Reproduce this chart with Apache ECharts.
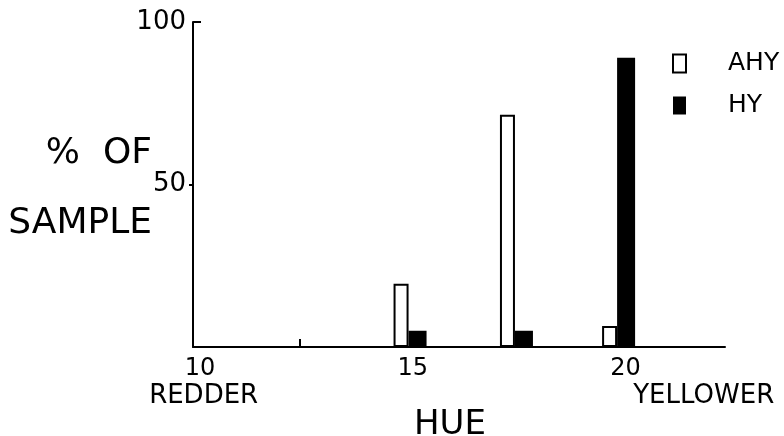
<!DOCTYPE html>
<html>
<head>
<meta charset="utf-8">
<script src="https://cdn.jsdelivr.net/npm/echarts@6/dist/echarts.min.js"></script>
<style>html,body{margin:0;padding:0;background:#fff}#c{width:784px;height:436px}</style>
</head>
<body>
<div id="c"></div>
<script>
const hues = [15.1, 17.6, 20];
const ahy = [19.5, 71.5, 6.5];
const hy = [5, 5, 89];
const xTickLabels = [10, 15, 20];
const xMinorTicks = [12.5];
const yTickLabels = [50, 100];
const endLabels = {10.25: 'REDDER', 22: 'YELLOWER'};
const seriesNames = ['AHY', 'HY'];

const FONT = 'DejaVu Sans';
const chart = echarts.init(document.getElementById('c'), null, {renderer: 'canvas'});
chart.setOption({
  backgroundColor: '#fff',
  animation: false,
  textStyle: {fontFamily: FONT, color: '#000'},
  grid: {left: 193, right: 59, top: 22, bottom: 89, containLabel: false, outerBoundsMode: 'none'},
  legend: {
    orient: 'vertical', left: 672, top: 51, padding: 0,
    itemWidth: 13, itemHeight: 18, itemGap: 17,
    icon: 'rect',
    data: seriesNames,
    textStyle: {fontFamily: FONT, fontSize: 25, color: '#000', padding: [0, 0, 0, 37]}
  },
  xAxis: [{
    type: 'value', min: 10, max: 22.5, interval: 2.5,
    name: 'HUE', nameLocation: 'middle', nameGap: 61, nameMoveOverlap: false,
    nameTextStyle: {fontFamily: FONT, fontSize: 34, color: '#000', padding: [0, 18, 0, 0]},
    axisLine: {show: true, lineStyle: {color: '#000', width: 2}},
    axisTick: {show: true, inside: true, length: 8, customValues: xMinorTicks, lineStyle: {color: '#000', width: 2}},
    axisLabel: {
      customValues: xTickLabels, margin: 10,
      fontFamily: FONT, fontSize: 24, color: '#000',
      formatter: v => '{n|' + v + '}',
      rich: {n: {fontFamily: FONT, fontSize: 24, color: '#000', padding: [0, 0, 0, 14]}}
    },
    splitLine: {show: false}
  }, {
    type: 'value', min: 10, max: 22.5, position: 'bottom',
    axisLine: {show: false}, axisTick: {show: false}, splitLine: {show: false},
    axisLabel: {
      customValues: Object.keys(endLabels).map(Number), margin: 36,
      fontFamily: FONT, fontSize: 26, color: '#000',
      formatter: v => endLabels[v] || ''
    }
  }],
  yAxis: [{
    type: 'value', min: 0, max: 100, interval: 50,
    name: '{s| }\n{a|%  OF}\n{a|SAMPLE}', nameLocation: 'middle', nameRotate: 0, nameGap: 41, nameMoveOverlap: false,
    nameTextStyle: {
      fontFamily: FONT, fontSize: 36, color: '#000', align: 'right',
      rich: {
        s: {fontSize: 1, lineHeight: 9},
        a: {fontFamily: FONT, fontSize: 36, color: '#000', lineHeight: 70}
      }
    },
    axisLine: {show: true, lineStyle: {color: '#000', width: 2}},
    axisTick: {show: true, length: 4, customValues: [50], lineStyle: {color: '#000', width: 2}},
    axisLabel: {customValues: yTickLabels, margin: 7, fontFamily: FONT, fontSize: 26, color: '#000'},
    splitLine: {show: false}
  }, {
    type: 'value', min: 0, max: 100, position: 'left',
    axisLine: {show: false}, axisLabel: {show: false}, splitLine: {show: false},
    axisTick: {show: true, inside: true, length: 8, customValues: [100], lineStyle: {color: '#000', width: 2}}
  }],
  series: [{
    name: seriesNames[0], type: 'bar', xAxisIndex: 0, yAxisIndex: 0,
    barWidth: 15, barGap: '0%',
    itemStyle: {color: '#fff', borderColor: '#000', borderWidth: 2},
    data: hues.map((h, i) => [h, ahy[i]])
  }, {
    name: seriesNames[1], type: 'bar', xAxisIndex: 0, yAxisIndex: 0,
    barWidth: 18, barGap: '0%',
    itemStyle: {color: '#000', borderColor: '#000', borderWidth: 0},
    data: hues.map((h, i) => [h, hy[i]])
  }]
});
</script>
</body>
</html>
